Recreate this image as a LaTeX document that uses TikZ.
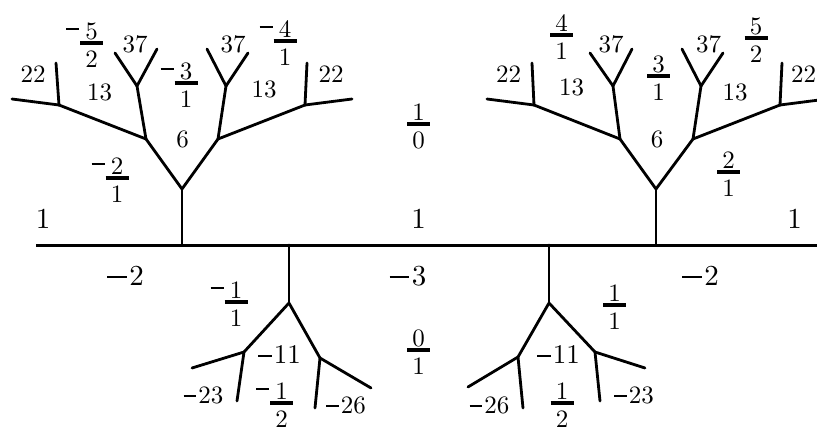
\documentclass[tikz,border=0pt]{standalone}
\usepackage{fontspec}
\setmainfont{lmroman10-regular.otf}
\newcommand\mn[1][0.5em]{\raisebox{0.24em}{\rule{#1}{0.075em}}\kern0.09em}
\tikzset{
  edge/.style={line width=2.8pt, line cap=round},
  mainline/.style={line width=3pt},
  lbl/.style={inner sep=0pt, font=\fontsize{25}{30}\selectfont},
  big/.style={inner sep=0pt, font=\fontsize{29}{34}\selectfont},
  mid/.style={inner sep=0pt, font=\fontsize{27}{32}\selectfont},
  fbar/.style={line width=3.3pt},
}
% fraction: name, x, y of bar centre, numerator, denominator
\newcommand\fracat[5]{%
  \node[lbl,anchor=base] (#1n) at (#2,#3-4) {#4};
  \node[lbl,anchor=base] (#1d) at (#2,#3+24) {#5};
  \draw[fbar] (#2-11.5,#3) -- (#2+11.5,#3);
}
\newcommand\fracm[5]{%
  \fracat{#1}{#2}{#3}{#4}{#5}
  \node[lbl,anchor=base east] (#1m) at (#2-10,#3-4) {\raisebox{0.12em}{\mn[0.52em]}};
}
\begin{document}
\begin{tikzpicture}[x=1pt,y=-1pt]
\useasboundingbox (0,0) rectangle (817,432);
\clip (0,0) rectangle (817,432);
% ---- main line
\coordinate (m0) at (36,245);
\coordinate (m1) at (817,245);
\coordinate (ta) at (182,245);
\coordinate (tb) at (656,245);
\coordinate (ba) at (289,245);
\coordinate (bb) at (549,245);
\draw[mainline] (m0) -- (m1);
% ---- upper left tree
\coordinate (a0) at (182,189);
\coordinate (a1) at (146,139);
\coordinate (a2) at (218,139);
\coordinate (a11) at (59,105);
\coordinate (a12) at (137,86);
\coordinate (a111) at (12,99);
\coordinate (a112) at (56,63);
\coordinate (a121) at (115,53);
\coordinate (a122) at (157,49);
\coordinate (a21) at (226,86);
\coordinate (a22) at (305,105);
\coordinate (a211) at (207,49);
\coordinate (a212) at (248,53);
\coordinate (a221) at (307,63);
\coordinate (a222) at (352,99);
\draw[edge] (ta) -- (a0);
\draw[edge] (a0) -- (a1); \draw[edge] (a0) -- (a2);
\draw[edge] (a1) -- (a11); \draw[edge] (a1) -- (a12);
\draw[edge] (a11) -- (a111); \draw[edge] (a11) -- (a112);
\draw[edge] (a12) -- (a121); \draw[edge] (a12) -- (a122);
\draw[edge] (a2) -- (a21); \draw[edge] (a2) -- (a22);
\draw[edge] (a21) -- (a211); \draw[edge] (a21) -- (a212);
\draw[edge] (a22) -- (a221); \draw[edge] (a22) -- (a222);
% ---- upper right tree
\coordinate (b0) at (656,189);
\coordinate (b1) at (620,139);
\coordinate (b2) at (693,139);
\coordinate (b11) at (534,105);
\coordinate (b12) at (613,86);
\coordinate (b111) at (487,99);
\coordinate (b112) at (532,63);
\coordinate (b121) at (590,53);
\coordinate (b122) at (632,49);
\coordinate (b21) at (701,86);
\coordinate (b22) at (780,105);
\coordinate (b211) at (682,49);
\coordinate (b212) at (723,53);
\coordinate (b221) at (782,63);
\coordinate (b222) at (827,99);
\draw[edge] (tb) -- (b0);
\draw[edge] (b0) -- (b1); \draw[edge] (b0) -- (b2);
\draw[edge] (b1) -- (b11); \draw[edge] (b1) -- (b12);
\draw[edge] (b11) -- (b111); \draw[edge] (b11) -- (b112);
\draw[edge] (b12) -- (b121); \draw[edge] (b12) -- (b122);
\draw[edge] (b2) -- (b21); \draw[edge] (b2) -- (b22);
\draw[edge] (b21) -- (b211); \draw[edge] (b21) -- (b212);
\draw[edge] (b22) -- (b221); \draw[edge] (b22) -- (b222);
% ---- lower left tree
\coordinate (c0) at (289,303);
\coordinate (c1) at (244,352);
\coordinate (c2) at (320,358);
\coordinate (c11) at (192,368);
\coordinate (c12) at (237,401);
\coordinate (c21) at (315,408);
\coordinate (c22) at (371,388);
\draw[edge] (ba) -- (c0);
\draw[edge] (c0) -- (c1); \draw[edge] (c0) -- (c2);
\draw[edge] (c1) -- (c11); \draw[edge] (c1) -- (c12);
\draw[edge] (c2) -- (c21); \draw[edge] (c2) -- (c22);
% ---- lower right tree
\coordinate (d0) at (549,303);
\coordinate (d1) at (518,357);
\coordinate (d2) at (595,352);
\coordinate (d11) at (468,387);
\coordinate (d12) at (523,408);
\coordinate (d21) at (600,401);
\coordinate (d22) at (645,368);
\draw[edge] (bb) -- (d0);
\draw[edge] (d0) -- (d1); \draw[edge] (d0) -- (d2);
\draw[edge] (d1) -- (d11); \draw[edge] (d1) -- (d12);
\draw[edge] (d2) -- (d21); \draw[edge] (d2) -- (d22);
% ---- labels, upper left
\node[lbl,anchor=base] (l22a) at (33,82) {22};
\node[lbl,anchor=base] (l37a) at (135,52) {37};
\node[lbl,anchor=base] (l13a) at (99.5,100) {13};
\node[lbl,anchor=base] (l37b) at (233,52) {37};
\node[lbl,anchor=base] (l13b) at (264,97) {13};
\node[lbl,anchor=base] (l22b) at (331,82) {22};
\node[lbl,anchor=base] (l6a) at (182.5,147) {6};
\node[big,anchor=base] (l1a) at (43,228) {1};
\fracm{fa}{91.5}{43}{5}{2}
\fracm{fb}{186}{83}{3}{1}
\fracm{fc}{285}{41}{4}{1}
\fracm{fd}{117}{178}{2}{1}
% ---- labels, centre
\fracat{fe}{418.5}{124}{1}{0}
\node[big,anchor=base] (l1b) at (418.5,228) {1};
\node[big,anchor=base] (lm3) at (408,285) {\mn[0.68em]3};
\fracat{ff}{418.5}{350}{0}{1}
% ---- labels, upper right
\node[lbl,anchor=base] (l22c) at (508.5,82) {22};
\node[lbl,anchor=base] (l37c) at (611,52) {37};
\node[lbl,anchor=base] (l13c) at (571.5,95) {13};
\node[lbl,anchor=base] (l37d) at (708.5,52) {37};
\node[lbl,anchor=base] (l13d) at (735,100) {13};
\node[lbl,anchor=base] (l22d) at (803.5,82) {22};
\node[lbl,anchor=base] (l6b) at (657,147) {6};
\node[big,anchor=base] (l1c) at (794.5,228) {1};
\fracat{fg}{561.5}{35}{4}{1}
\fracat{fh}{658.5}{76}{3}{1}
\fracat{fi}{756}{38}{5}{2}
\fracat{fj}{728.5}{172}{2}{1}
% ---- labels, lower left
\node[big,anchor=base] (lm2a) at (125.5,285) {\mn[0.68em]2};
\node[mid,anchor=base] (lm11a) at (279.5,363) {\mn[0.5em]11};
\node[lbl,anchor=base] (lm23a) at (203.5,403) {\mn[0.5em]23};
\node[lbl,anchor=base] (lm26a) at (346,413) {\mn[0.5em]26};
\fracm{fk}{236}{302}{1}{1}
\fracm{fl}{281.5}{403}{1}{2}
% ---- labels, lower right
\node[big,anchor=base] (lm2b) at (700.5,285) {\mn[0.68em]2};
\node[mid,anchor=base] (lm11b) at (558.5,363) {\mn[0.5em]11};
\node[lbl,anchor=base] (lm26b) at (489.5,413) {\mn[0.5em]26};
\node[lbl,anchor=base] (lm23b) at (634,403) {\mn[0.5em]23};
\fracat{fm}{614.5}{305}{1}{1}
\fracat{fn}{562}{403}{1}{2}
\end{tikzpicture}
\end{document}
